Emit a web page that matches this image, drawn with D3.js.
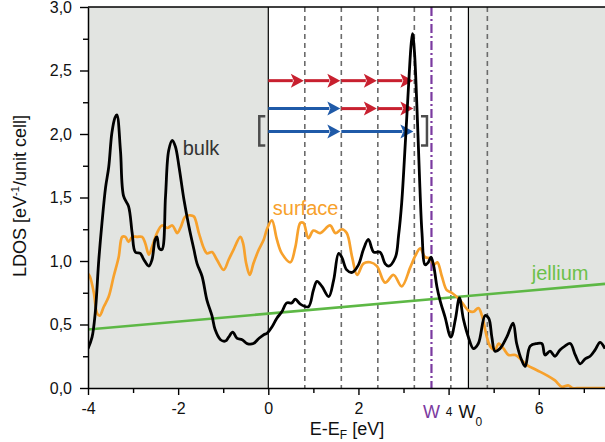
<!DOCTYPE html>
<html>
<head>
<meta charset="utf-8">
<script src="https://cdn.jsdelivr.net/npm/d3@7"></script>
<style>
  body { margin: 0; background: #fff; }
  svg { display: block; font-family: "Liberation Sans", Arial, sans-serif; }
</style>
</head>
<body>
<div id="chart"></div>
<script>
// LDOS vs energy
var bulk = [
  [-4.0,0.31],[-3.91,0.40],[-3.84,0.59],[-3.76,1.01],[-3.69,1.30],[-3.61,1.58],[-3.54,1.74],
  [-3.47,2.01],[-3.40,2.13],[-3.36,2.15],[-3.28,1.87],[-3.21,1.51],[-3.10,1.43],[-3.02,1.22],
  [-2.95,1.07],[-2.84,1.06],[-2.76,1.01],[-2.65,0.96],[-2.58,1.01],[-2.51,1.17],[-2.47,1.19],
  [-2.42,1.10],[-2.36,1.09],[-2.28,1.51],[-2.21,1.87],[-2.13,1.95],[-2.06,1.90],[-1.98,1.74],
  [-1.87,1.48],[-1.76,1.27],[-1.65,1.09],[-1.58,0.98],[-1.47,0.88],[-1.36,0.69],[-1.25,0.57],
  [-1.18,0.46],[-1.06,0.38],[-0.95,0.37],[-0.88,0.40],[-0.79,0.44],[-0.69,0.39],[-0.58,0.38],
  [-0.47,0.35],[-0.33,0.35],[-0.21,0.39],[-0.10,0.42],[-0.03,0.43],[0.08,0.48],[0.19,0.55],
  [0.30,0.60],[0.41,0.67],[0.52,0.67],[0.60,0.70],[0.71,0.66],[0.89,0.64],[1.00,0.77],
  [1.08,0.84],[1.19,0.80],[1.34,0.72],[1.45,0.85],[1.56,1.06],[1.63,1.03],[1.74,0.93],
  [1.86,0.91],[2.00,0.97],[2.11,1.09],[2.22,1.17],[2.34,1.07],[2.48,1.07],[2.59,0.98],
  [2.67,0.96],[2.82,1.03],[2.89,1.20],[2.96,1.46],[3.04,1.93],[3.11,2.37],[3.17,2.71],
  [3.20,2.79],[3.24,2.66],[3.30,2.19],[3.36,1.61],[3.41,1.22],[3.48,0.97],[3.55,0.99],
  [3.61,1.03],[3.67,0.96],[3.74,0.80],[3.81,0.69],[3.92,0.56],[4.05,0.40],[4.15,0.54],
  [4.24,0.71],[4.33,0.54],[4.44,0.40],[4.55,0.31],[4.66,0.35],[4.81,0.57],[4.89,0.55],
  [4.96,0.40],[5.03,0.29],[5.14,0.31],[5.29,0.40],[5.43,0.51],[5.51,0.35],[5.62,0.22],
  [5.70,0.17],[5.81,0.33],[5.96,0.35],[6.07,0.35],[6.14,0.26],[6.25,0.29],[6.36,0.25],
  [6.47,0.30],[6.58,0.33],[6.70,0.35],[6.81,0.26],[6.92,0.19],[7.03,0.23],[7.14,0.25],
  [7.25,0.30],[7.36,0.36],[7.47,0.31]
];

var surface = [
  [-4.0,0.90],[-3.96,0.88],[-3.87,0.75],[-3.80,0.59],[-3.74,0.57],[-3.65,0.64],[-3.54,0.72],
  [-3.43,0.88],[-3.32,1.03],[-3.24,1.19],[-3.17,1.19],[-3.10,1.15],[-3.02,1.19],[-2.91,1.19],
  [-2.80,1.19],[-2.73,1.14],[-2.65,1.05],[-2.58,1.11],[-2.47,1.22],[-2.36,1.28],[-2.24,1.26],
  [-2.13,1.28],[-2.02,1.22],[-1.95,1.26],[-1.84,1.35],[-1.73,1.36],[-1.65,1.35],[-1.54,1.22],
  [-1.43,1.10],[-1.36,1.06],[-1.25,1.07],[-1.14,1.01],[-0.99,0.93],[-0.88,1.01],[-0.77,1.09],
  [-0.62,1.19],[-0.56,1.14],[-0.49,0.98],[-0.41,0.89],[-0.33,0.98],[-0.21,1.09],[-0.10,1.17],
  [-0.03,1.25],[0.08,1.32],[0.19,1.17],[0.30,1.06],[0.49,0.99],[0.60,1.11],[0.71,1.30],
  [0.78,1.30],[0.89,1.18],[1.00,1.24],[1.15,1.22],[1.37,1.28],[1.49,1.22],[1.63,1.25],
  [1.74,1.22],[1.86,1.03],[1.97,0.89],[2.11,0.98],[2.26,0.99],[2.41,0.96],[2.59,0.83],
  [2.78,0.89],[2.96,0.80],[3.15,0.95],[3.26,1.04],[3.37,1.10],[3.48,1.03],[3.59,1.02],
  [3.67,0.97],[3.75,0.99],[3.85,0.88],[3.96,0.77],[4.07,0.75],[4.26,0.69],[4.44,0.61],
  [4.55,0.60],[4.66,0.63],[4.74,0.57],[4.85,0.40],[4.92,0.33],[5.03,0.30],[5.11,0.35],
  [5.22,0.31],[5.33,0.26],[5.48,0.26],[5.62,0.22],[5.74,0.18],[5.96,0.14],[6.18,0.10],
  [6.36,0.06],[6.51,0.01],[6.66,0.02],[6.75,0.0],[6.92,0.0],[7.47,0.0]
];

var jellium = [[-4.0,0.46],[7.47,0.82]];

var xMajor = [-4, -2, 0, 2, 4, 6];
var xMinor = [-3, -1, 1, 3, 5, 7];
var yMajor = [0, 0.5, 1.0, 1.5, 2.0, 2.5, 3.0];
var yMinor = [0.25, 0.75, 1.25, 1.75, 2.25, 2.75];

// photon energy steps (dashed), work function W and W0
var photonSteps = [0.81, 1.62, 2.43, 3.24, 4.05, 4.86];
var W = 3.62, W0 = 4.44;

// arrow rows: [level, from, to, colour key]
var arrows = [
  [2.42, 0, 0.81, "r"], [2.42, 0.81, 1.62, "r"], [2.42, 1.62, 2.43, "r"], [2.42, 2.43, 3.24, "r"],
  [2.20, 0, 1.62, "b"], [2.20, 1.62, 2.43, "r"], [2.20, 2.43, 3.24, "r"],
  [2.02, 0, 1.62, "b"], [2.02, 1.62, 3.24, "b"]
];

var width = 605, height = 442;
var margin = {top: 7, right: 0, bottom: 54, left: 88};

var x = d3.scaleLinear().domain([-4, 7.47]).range([margin.left, width - margin.right]);
var y = d3.scaleLinear().domain([0, 3]).range([height - margin.bottom, margin.top]);

var svg = d3.select("#chart").append("svg")
    .attr("width", width).attr("height", height);

svg.append("clipPath").attr("id", "plot")
  .append("rect")
    .attr("x", margin.left).attr("y", margin.top)
    .attr("width", width - margin.left - margin.right)
    .attr("height", height - margin.top - margin.bottom);

var gray = "#e2e4e1";
svg.append("rect")
    .attr("x", x(-4)).attr("y", y(3))
    .attr("width", x(0) - x(-4)).attr("height", y(0) - y(3))
    .attr("fill", gray);
svg.append("rect")
    .attr("x", x(W0)).attr("y", y(3))
    .attr("width", x(7.47) - x(W0)).attr("height", y(0) - y(3))
    .attr("fill", gray);

// dashed photon steps
svg.selectAll("line.step").data(photonSteps).enter().append("line")
    .attr("class", "step")
    .attr("x1", function(d) { return x(d); }).attr("x2", function(d) { return x(d); })
    .attr("y1", y(3)).attr("y2", y(0))
    .attr("stroke", "#6b6b6b").attr("stroke-width", 1.6)
    .attr("stroke-dasharray", "5,4");

// E_F and vacuum level
[0, W0].forEach(function(v) {
  svg.append("line")
    .attr("x1", x(v)).attr("x2", x(v)).attr("y1", y(3)).attr("y2", y(0))
    .attr("stroke", "#000").attr("stroke-width", 1.2);
});

svg.append("line")
    .attr("x1", x(W)).attr("x2", x(W)).attr("y1", y(3)).attr("y2", y(0))
    .attr("stroke", "#7b3aa0").attr("stroke-width", 2.2)
    .attr("stroke-dasharray", "9,3,2,3");

// arrows
var colors = {r: "#c8202f", b: "#1f5aa8"};
var headL = 13, headW = 7;
arrows.forEach(function(a) {
  var yy = y(a[0]), x0 = x(a[1]), x1 = x(a[2]) - 1;
  svg.append("line")
      .attr("x1", x0).attr("x2", x1 - headL + 2)
      .attr("y1", yy).attr("y2", yy)
      .attr("stroke", colors[a[3]]).attr("stroke-width", 3);
  svg.append("path")
      .attr("d", "M" + x1 + "," + yy + "L" + (x1 - headL) + "," + (yy - headW) +
                 "L" + (x1 - headL + 3) + "," + yy + "L" + (x1 - headL) + "," + (yy + headW) + "Z")
      .attr("fill", colors[a[3]]);
});

// brackets around the lower two rows
var bTop = y(2.14), bBot = y(1.91);
var lb = x(-0.2), rb = x(3.52);
svg.append("path")
    .attr("d", "M" + (lb + 6) + "," + bTop + "H" + lb + "V" + bBot + "H" + (lb + 6))
    .attr("fill", "none").attr("stroke", "#4d4d4d").attr("stroke-width", 2.5);
svg.append("path")
    .attr("d", "M" + (rb - 6) + "," + bTop + "H" + rb + "V" + bBot + "H" + (rb - 6))
    .attr("fill", "none").attr("stroke", "#4d4d4d").attr("stroke-width", 2.5);

var line = d3.line()
    .x(function(d) { return x(d[0]); })
    .y(function(d) { return y(d[1]); })
    .curve(d3.curveCatmullRom.alpha(0.5));

var curves = svg.append("g").attr("clip-path", "url(#plot)");
curves.append("path").datum(jellium).attr("d", line)
    .attr("fill", "none").attr("stroke", "#5db845").attr("stroke-width", 2.6);
curves.append("path").datum(surface).attr("d", line)
    .attr("fill", "none").attr("stroke", "#f7a12c").attr("stroke-width", 2.7)
    .attr("stroke-linejoin", "round");
curves.append("path").datum(bulk).attr("d", line)
    .attr("fill", "none").attr("stroke", "#000").attr("stroke-width", 2.8)
    .attr("stroke-linejoin", "round");

// top frame
svg.append("line")
    .attr("x1", margin.left).attr("x2", width).attr("y1", y(3)).attr("y2", y(3))
    .attr("stroke", "#000").attr("stroke-width", 1.5);

// axes
var xAxis = svg.append("g").attr("transform", "translate(0," + y(0) + ")")
    .call(d3.axisBottom(x).tickValues(xMajor).tickSize(7).tickSizeOuter(0).tickPadding(8)
      .tickFormat(function(d) { return String(d); }));
svg.append("g").attr("transform", "translate(0," + y(0) + ")")
    .call(d3.axisBottom(x).tickValues(xMinor).tickSize(5).tickFormat(""))
    .call(function(g) { g.select(".domain").remove(); });

var yAxis = svg.append("g").attr("transform", "translate(" + x(-4) + ",0)")
    .call(d3.axisLeft(y).tickValues(yMajor).tickSize(8).tickSizeOuter(0).tickPadding(8)
      .tickFormat(function(d) { return d3.format(".1f")(d).replace(".", ","); }));
svg.append("g").attr("transform", "translate(" + x(-4) + ",0)")
    .call(d3.axisLeft(y).tickValues(yMinor).tickSize(5).tickFormat(""))
    .call(function(g) { g.select(".domain").remove(); });

svg.selectAll(".domain").attr("stroke-width", 1.5);
svg.selectAll(".tick line").attr("stroke-width", 1.4);
svg.selectAll(".tick text").attr("font-size", 16).attr("fill", "#111")
    .attr("font-family", "Liberation Sans, Arial, sans-serif");
xAxis.selectAll(".tick text").filter(function(d) { return d === 4; })
    .attr("font-size", 12).attr("dy", "1.05em");

// W and W0 labels
svg.append("text")
    .attr("x", x(W)).attr("y", 418).attr("text-anchor", "middle")
    .attr("font-size", 18).attr("fill", "#7b3aa0").text("W");
var w0 = svg.append("text")
    .attr("x", x(W0) - 10).attr("y", 418)
    .attr("font-size", 18).attr("fill", "#111");
w0.append("tspan").text("W");
w0.append("tspan").attr("font-size", 12).attr("dy", 8).text("0");

// axis titles
var xt = svg.append("text")
    .attr("x", 347).attr("y", 435).attr("text-anchor", "middle")
    .attr("font-size", 18).attr("fill", "#111");
xt.append("tspan").text("E-E");
xt.append("tspan").attr("font-size", 12).attr("dy", 4).text("F");
xt.append("tspan").attr("dy", -4).text(" [eV]");

var yt = svg.append("text")
    .attr("transform", "translate(26,196) rotate(-90)")
    .attr("text-anchor", "middle")
    .attr("font-size", 18).attr("fill", "#111");
yt.append("tspan").text("LDOS [eV");
yt.append("tspan").attr("font-size", 11).attr("dy", -7).text("-1");
yt.append("tspan").attr("dy", 7).text("/unit cell]");

// series labels
svg.append("text").attr("x", x(-1.9)).attr("y", y(1.835))
    .attr("font-size", 20).attr("fill", "#333").text("bulk");
svg.append("text").attr("x", x(0.1)).attr("y", y(1.362))
    .attr("font-size", 20).attr("fill", "#f7a12c").text("surface");
svg.append("text").attr("x", x(5.845)).attr("y", y(0.85))
    .attr("font-size", 20).attr("fill", "#6cc04a").text("jellium");
</script>
</body>
</html>
